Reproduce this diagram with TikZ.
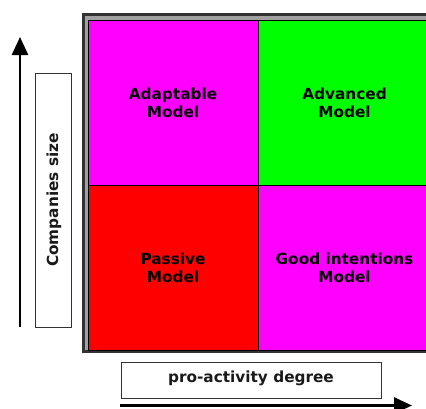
\documentclass[tikz,border=0pt]{standalone}
\usepackage{fontspec}
\setmainfont{DejaVu Sans}
\usetikzlibrary{arrows.meta}
\definecolor{mag}{RGB}{255,0,255}
\definecolor{grn}{RGB}{0,255,0}
\definecolor{rd}{RGB}{255,0,0}
\definecolor{frameDark}{RGB}{50,50,50}
\definecolor{frameGrey}{RGB}{160,160,160}
\tikzset{
  cell/.style={draw=black, line width=1pt, inner sep=0pt},
  celltext/.style={font=\fontsize{15.3}{18}\selectfont\bfseries, align=center, text=black},
  labelbox/.style={draw=black!80, line width=1pt},
  labeltext/.style={font=\fontsize{15.3}{18}\selectfont\bfseries, text=black!90},
  axis/.style={line width=2.6pt, -{Triangle[length=18pt,width=16pt]}}
}
\begin{document}
\begin{tikzpicture}[x=1pt,y=-1pt]
\useasboundingbox (0,0) rectangle (426,408);
\fill[white] (0,0) rectangle (426,408);
% frame
\fill[frameDark] (82,13) rectangle (445,353);
\fill[frameGrey] (84.5,16) rectangle (445,350);
% cells
\filldraw[cell, fill=mag] (88,20) rectangle (258,185);
\filldraw[cell, fill=grn] (258,20) rectangle (431,185);
\filldraw[cell, fill=rd] (88,185) rectangle (258,350);
\filldraw[cell, fill=mag] (258,185) rectangle (431,350);
\node[celltext] (adapt) at (173,102.5) {Adaptable\\Model};
\node[celltext] (adv) at (344.5,102.5) {Advanced\\Model};
\node[celltext] (pass) at (173,268) {Passive\\Model};
\node[celltext] (good) at (344.5,268) {Good intentions\\Model};
% left label
\draw[labelbox] (35,73) rectangle (71,327);
\node[labeltext, rotate=90] (size) at (54,200) {Companies size};
% bottom label
\draw[labelbox] (121,362) rectangle (381,398);
\node[labeltext] (pro) at (251,378) {pro-activity degree};
% axes
\coordinate (ys) at (20,327);
\coordinate (ye) at (20,37);
\draw[axis] (ys) -- (ye);
\coordinate (xs) at (120,405.5);
\coordinate (xe) at (412,405.5);
\draw[axis] (xs) -- (xe);
\end{tikzpicture}
\end{document}
